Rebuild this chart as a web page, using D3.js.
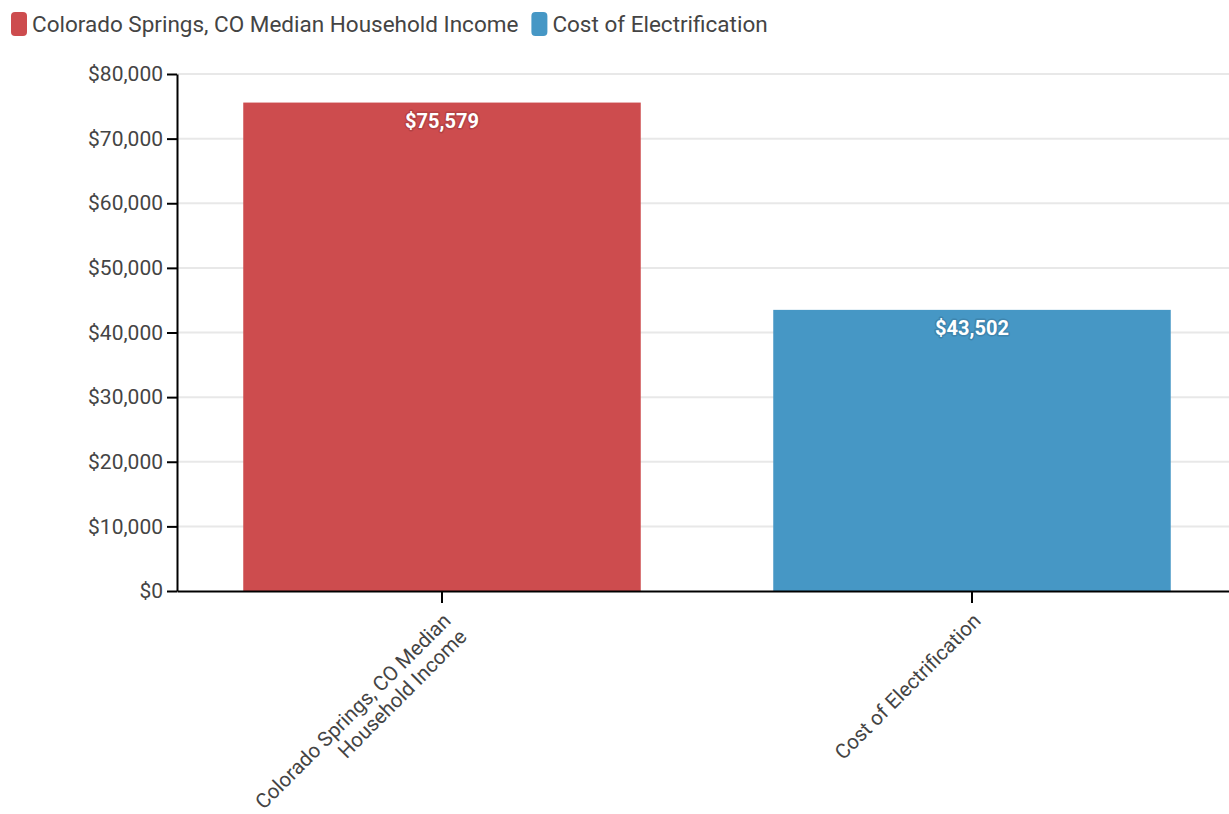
<!DOCTYPE html>
<html>
<head>
<meta charset="utf-8">
<script src="https://cdn.jsdelivr.net/npm/d3@7"></script>
<style>
  html, body { margin: 0; padding: 0; background: #fff; }
  svg { display: block; font-family: Roboto, "Noto Sans", sans-serif; }
</style>
</head>
<body>
<svg id="chart" width="1229" height="814"></svg>
<script>
const categories = ["Colorado Springs, CO Median Household Income", "Cost of Electrification"];
const categoryLines = [["Colorado Springs, CO Median", "Household Income"], ["Cost of Electrification"]];
const values = [75579, 43502];
const colors = ["#cd4c4e", "#4697c5"];
const yTicks = [0, 10000, 20000, 30000, 40000, 50000, 60000, 70000, 80000];

(function () {
const svg = d3.select("#chart");
const mLeft = 177, mTop = 74, mBottom = 591, rightRange = 1237;

const x = d3.scaleBand().domain(categories).range([mLeft, rightRange])
  .paddingInner(0.25).paddingOuter(0.125);
const y = d3.scaleLinear().domain([0, 80000]).range([mBottom, mTop]);
const fmt = v => "$" + d3.format(",")(v);

// gridlines
svg.append("g").selectAll("line").data(yTicks.filter(d => d > 0)).join("line")
  .attr("x1", mLeft).attr("x2", 1229)
  .attr("y1", d => y(d)).attr("y2", d => y(d))
  .attr("stroke", "#e8e8e8").attr("stroke-width", 2);

// bars
svg.append("g").selectAll("rect").data(categories).join("rect")
  .attr("x", d => x(d)).attr("width", x.bandwidth())
  .attr("y", (d, i) => y(values[i])).attr("height", (d, i) => y(0) - y(values[i]))
  .attr("fill", (d, i) => colors[i]);

// value labels
const lbl = svg.append("g").selectAll("g").data(categories).join("g")
  .attr("transform", (d, i) => `translate(${x(d) + x.bandwidth() / 2},${y(values[i]) + 25})`);
lbl.append("text").attr("text-anchor", "middle")
  .attr("font-size", 20).attr("font-weight", "bold")
  .attr("stroke", (d, i) => d3.color(colors[i]).darker(0.6)).attr("stroke-width", 3)
  .attr("stroke-linejoin", "round").attr("opacity", 0.6)
  .text((d, i) => fmt(values[i]));
lbl.append("text").attr("text-anchor", "middle")
  .attr("font-size", 20).attr("font-weight", "bold").attr("fill", "#fff")
  .text((d, i) => fmt(values[i]));

// y axis
const yAxis = svg.append("g").attr("transform", `translate(${mLeft},0)`)
  .call(d3.axisLeft(y).tickValues(yTicks).tickFormat(fmt).tickSize(10).tickSizeOuter(0).tickPadding(4));
yAxis.select(".domain").attr("stroke", "#000").attr("stroke-width", 2);
yAxis.selectAll(".tick line").attr("stroke", "#000").attr("stroke-width", 2);
yAxis.selectAll(".tick text").attr("font-size", 21).attr("fill", "#444").attr("font-family", "Roboto");

// x axis
const xAxis = svg.append("g").attr("transform", `translate(0,${mBottom})`)
  .call(d3.axisBottom(x).tickSize(12).tickSizeOuter(0).tickFormat(""));
xAxis.select(".domain").attr("stroke", "#000").attr("stroke-width", 2);
xAxis.selectAll(".tick line").attr("stroke", "#000").attr("stroke-width", 2);
xAxis.selectAll(".tick").each(function (d, i) {
  const t = d3.select(this).append("text")
    .attr("text-anchor", "end").attr("font-size", 20.5).attr("fill", "#444")
    .attr("font-family", "Roboto")
    .attr("transform", "translate(10,31) rotate(-45)");
  categoryLines[i].forEach((line, j) => {
    t.append("tspan").attr("x", 0).attr("dy", j === 0 ? 0 : "1.1em").text(line);
  });
});

// legend
const legend = svg.append("g").attr("transform", "translate(11,12)");
let lx = 0;
categories.forEach((c, i) => {
  const g = legend.append("g").attr("transform", `translate(${lx},0)`);
  g.append("rect").attr("width", 16).attr("height", 24).attr("rx", 4).attr("fill", colors[i]);
  const t = g.append("text").attr("x", 21).attr("y", 20).attr("font-size", 22.5)
    .attr("fill", "#444").text(c);
  lx += 21 + t.node().getComputedTextLength() + 13;
});
})();
</script>
</body>
</html>
